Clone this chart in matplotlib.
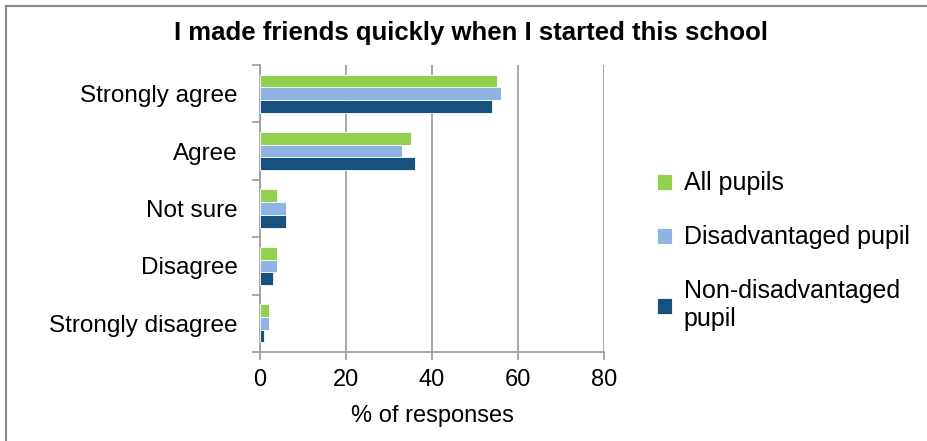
import numpy as np
import matplotlib.pyplot as plt
from matplotlib.lines import Line2D

plt.rcParams['font.family'] = ['Liberation Sans', 'DejaVu Sans']

categories = ["Strongly agree", "Agree", "Not sure", "Disagree", "Strongly disagree"]
all_pupils = [55, 35, 4, 4, 2]
disadvantaged = [56, 33, 6, 4, 2]
non_disadvantaged = [54, 36, 6, 3, 1]
series_names = ["All pupils", "Disadvantaged pupil", "Non-disadvantaged\npupil"]
colors = ["#92D050", "#8EB4E3", "#17527F"]

fig = plt.figure(figsize=(9.28, 4.41), dpi=100)
ax = fig.add_axes([0.2802, 0.2018, 0.3707, 0.6508])

y = np.arange(len(categories))
h = 0.222
for k, (vals, c, name) in enumerate(zip([all_pupils, disadvantaged, non_disadvantaged], colors, series_names)):
    ax.barh(y + (k - 1) * h, vals, height=h, color=c, label=name, edgecolor='white', linewidth=0.6, zorder=3)

ax.set_xlim(0, 80)
ax.set_ylim(4.5, -0.5)
ax.set_xticks([0, 20, 40, 60, 80])
ax.set_yticks(y)
ax.set_yticklabels(categories, fontsize=17.5)
ax.set_yticks(np.arange(-0.5, 5, 1), minor=True)
ax.tick_params(axis='y', which='major', length=0, pad=16)
ax.tick_params(axis='y', which='minor', length=6, color='#999999', width=1.2)
ax.tick_params(axis='x', labelsize=17, length=6, color='#999999', width=1.2, pad=6)
ax.grid(axis='x', color='#999999', linewidth=1.2, zorder=0)
for s in ['top', 'right']:
    ax.spines[s].set_visible(False)
for s in ['left', 'bottom']:
    ax.spines[s].set_color('#999999')
    ax.spines[s].set_linewidth(1.2)
ax.set_xlabel("% of responses", fontsize=17, labelpad=10)

fig.suptitle("I made friends quickly when I started this school", x=0.508, y=0.952,
             fontsize=18.5, fontweight='bold')

handles, labels = ax.get_legend_handles_labels()
fig.legend(handles, labels, loc='center left', bbox_to_anchor=(0.684, 0.43), frameon=False,
           fontsize=18, handlelength=0.6, handleheight=0.6, handletextpad=0.45,
           labelspacing=1.2)

# chart frame (left and top edges)
fig.add_artist(Line2D([0.007, 0.007], [0, 0.987], color='#888888', linewidth=1.5, transform=fig.transFigure))
fig.add_artist(Line2D([0.007, 1.0], [0.987, 0.987], color='#888888', linewidth=1.5, transform=fig.transFigure))

fig.savefig("out.png", dpi=100)
